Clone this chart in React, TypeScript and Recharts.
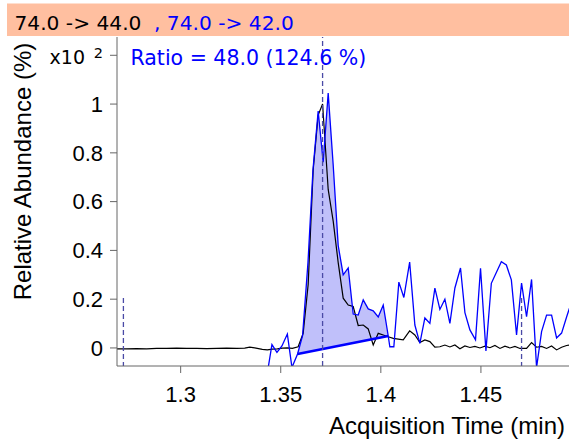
import React from 'react';
import { ComposedChart, Line, Area, XAxis, YAxis, ReferenceLine } from 'recharts';

const FONT = '"Liberation Sans", Arial, Helvetica, sans-serif';
const NOTE_FONT = '"DejaVu Sans", Verdana, sans-serif';
const QUAL_BLUE = '#0000ff';
const MARKER = '#4a4aa6';

// 74.0 -> 44.0 transition (black trace), abundance x10^2 %
const quantTime = [
  1.2682, 1.273, 1.278, 1.283, 1.288, 1.293, 1.298, 1.303, 1.308, 1.313, 1.318, 1.323, 1.328, 1.332,
  1.3345, 1.337, 1.3408, 1.3433, 1.3458, 1.3483, 1.3508, 1.3533, 1.3558, 1.3587, 1.3612, 1.3637,
  1.3662, 1.3687, 1.3709, 1.3737, 1.3762, 1.3787, 1.3812, 1.3837, 1.3862, 1.3887, 1.3912, 1.3937,
  1.3962, 1.3987, 1.4012, 1.4037, 1.4062, 1.4087, 1.4112, 1.4144, 1.417, 1.4195, 1.422, 1.4245,
  1.427, 1.4295, 1.432, 1.4345, 1.437, 1.4395, 1.442, 1.4445, 1.447, 1.4495, 1.452, 1.4545, 1.457,
  1.4595, 1.462, 1.4645, 1.467, 1.4695, 1.4728, 1.4753, 1.4778, 1.4803, 1.4828, 1.4853, 1.4878,
  1.4903, 1.4928, 1.494,
];
const quantAbund = [
  -0.004, -0.004, -0.003, -0.004, -0.002, -0.002, -0.001, -0.002, -0.002, -0.003, -0.002, -0.001, -0.002, -0.001,
  0.003, 0.0, -0.006, -0.008, -0.005, -0.004, -0.001, 0.0, -0.002, 0.005, 0.06, 0.26,
  0.73, 0.955, 1.0, 0.65, 0.52, 0.35, 0.204, 0.176, 0.17, 0.092, 0.094, 0.078,
  0.012, 0.06, 0.053, 0.046, 0.039, 0.036, 0.033, 0.07, 0.053, 0.022, 0.033, 0.026,
  0.003, 0.005, 0.012, 0.004, 0.012, -0.003, 0.008, 0.002, 0.006, 0.0, 0.007, 0.001, 0.01,
  -0.002, 0.007, 0.0, 0.006, -0.002, -0.002, 0.022, 0.003, 0.006, -0.002, 0.008, -0.008,
  0.003, 0.01, 0.012,
];

// 74.0 -> 42.0 transition (blue trace)
const qualTime = [
  1.3434, 1.3456, 1.3481, 1.3506, 1.3533, 1.3556, 1.3584, 1.3609, 1.3636, 1.3661, 1.3687, 1.3712,
  1.3737, 1.3762, 1.3787, 1.3812, 1.3837, 1.3862, 1.3887, 1.3912, 1.3937, 1.3962, 1.3987, 1.4012,
  1.4037, 1.4045, 1.4065, 1.409, 1.4115, 1.4144, 1.417, 1.4195, 1.422, 1.4245, 1.427, 1.4295,
  1.432, 1.4345, 1.437, 1.4398, 1.442, 1.4445, 1.4473, 1.4498, 1.4525, 1.4552, 1.4577, 1.4602,
  1.4627, 1.4652, 1.4678, 1.4703, 1.4728, 1.4753, 1.4778, 1.4803, 1.4828, 1.4853, 1.4878, 1.4903,
  1.4928, 1.4953,
];
const qualAbund = [
  -0.098, 0.014, -0.018, 0.008, 0.057, -0.08, -0.0246, 0.05, 0.35, 0.73, 0.971, 0.762,
  1.045, 0.75, 0.42, 0.3, 0.328, 0.139, 0.135, 0.197, 0.16, 0.152, 0.127, 0.176,
  0.049, 0.005, 0.005, 0.27, 0.207, 0.352, 0.094, 0.019, 0.123, 0.101, 0.245, 0.158,
  0.2, 0.101, 0.246, 0.328, 0.145, 0.074, 0.033, 0.327, -0.012, 0.265, 0.309, 0.354,
  0.34, 0.279, 0.053, 0.266, 0.128, 0.281, -0.08, 0.067, 0.135, 0.135, 0.041, 0.061,
  0.127, 0.19,
];

// integration baseline under the qualifier peak (start, end)
const baseTime = [1.3584, 1.4037];
const baseAbund = [-0.0246, 0.049];

// retention-time markers: window start, apex, window end
const markerTimes = [1.2714, 1.3709, 1.4703];
const markerTop = 0.205;

const xTicks = [1.3, 1.35, 1.4, 1.45];
const yTicks = [0, 0.2, 0.4, 0.6, 0.8, 1, 1.2];
const X_DOMAIN = [1.2682, 1.494];
const Y_DOMAIN = [-0.074, 1.275];

const quantData = quantTime.map((t, i) => ({ t, v: quantAbund[i] }));
const qualData = qualTime.map((t, i) => ({ t, v: qualAbund[i] }));
const baseData = baseTime.map((t, i) => ({ t, v: baseAbund[i] }));

// shaded peak: between the straight baseline and the qualifier trace
const baseAt = (t: number) =>
  baseAbund[0] + ((t - baseTime[0]) / (baseTime[1] - baseTime[0])) * (baseAbund[1] - baseAbund[0]);
const peakFill = qualData
  .filter((d) => d.t >= baseTime[0] - 1e-6 && d.t <= baseTime[1] + 1e-6)
  .map((d) => ({ t: d.t, band: [baseAt(d.t), d.v] }));

const YTick = (props: any) => {
  const { x, y, payload } = props;
  // top tick carries the scale factor instead of a number
  if (payload.value === 1.2) {
    return (
      <g fontFamily={NOTE_FONT} fill="#000">
        <text x={x - 18} y={y + 8.5} textAnchor="end" fontSize={19}>x10</text>
        <text x={x} y={y + 2.5} textAnchor="end" fontSize={14.5}>2</text>
      </g>
    );
  }
  return (
    <text x={x} y={y + 7.8} textAnchor="end" fontSize={22} fontFamily={FONT} fill="#000">
      {String(payload.value)}
    </text>
  );
};

const XTick = (props: any) => {
  const { x, y, payload } = props;
  return (
    <text x={x} y={y + 27} textAnchor="middle" fontSize={22} fontFamily={FONT} fill="#000">
      {String(payload.value)}
    </text>
  );
};

export default function App() {
  return (
    <div style={{ position: 'absolute', left: 0, top: 0, width: 569, height: 439, background: '#fff' }}>
      <ComposedChart width={569} height={439} margin={{ top: 37, right: 0, bottom: 0, left: 0 }}>
        <XAxis
          dataKey="t"
          type="number"
          domain={X_DOMAIN}
          allowDataOverflow
          ticks={xTicks}
          tick={<XTick />}
          height={73}
          tickSize={7}
          tickMargin={2}
          stroke="#666"
          interval={0}
        />
        <YAxis
          type="number"
          domain={Y_DOMAIN}
          allowDataOverflow
          ticks={yTicks}
          tick={<YTick />}
          width={117}
          tickSize={7}
          tickMargin={7}
          stroke="#666"
          interval={0}
        />
        <Area
          data={peakFill}
          dataKey="band"
          type="linear"
          stroke="none"
          fill="#c0c0fa"
          fillOpacity={1}
          isAnimationActive={false}
        />
        <Line
          data={quantData}
          dataKey="v"
          type="linear"
          stroke="#000"
          strokeWidth={1.2}
          dot={false}
          isAnimationActive={false}
        />
        <Line
          data={qualData}
          dataKey="v"
          type="linear"
          stroke={QUAL_BLUE}
          strokeWidth={1.3}
          dot={false}
          isAnimationActive={false}
        />
        <Line
          data={baseData}
          dataKey="v"
          type="linear"
          stroke={QUAL_BLUE}
          strokeWidth={2.6}
          dot={false}
          isAnimationActive={false}
        />
        <ReferenceLine
          segment={[{ x: markerTimes[0], y: markerTop }, { x: markerTimes[0], y: Y_DOMAIN[0] }]}
          stroke={MARKER}
          strokeWidth={1.3}
          strokeDasharray="5 3"
        />
        <ReferenceLine x={markerTimes[1]} stroke={MARKER} strokeWidth={1.3} strokeDasharray="5 3" />
        <ReferenceLine
          segment={[{ x: markerTimes[2], y: markerTop }, { x: markerTimes[2], y: Y_DOMAIN[0] }]}
          stroke={MARKER}
          strokeWidth={1.3}
          strokeDasharray="5 3"
        />
      </ComposedChart>
      <svg
        width={569}
        height={439}
        style={{ position: 'absolute', left: 0, top: 0, pointerEvents: 'none' }}
        fontFamily={FONT}
      >
        <rect x={7} y={3.5} width={562} height={32.5} fill="#ffbfa0" />
        <g fontFamily={NOTE_FONT} fontSize={20.2}>
          <text x={14.5} y={29.5} fill="#000">74.0 -&gt; 44.0</text>
          <text x={154} y={29.5} fill={QUAL_BLUE}>, 74.0 -&gt; 42.0</text>
          <text x={130.5} y={65} fontSize={20.5} fill={QUAL_BLUE}>Ratio = 48.0 (124.6 %)</text>
        </g>
        <text x={31} y={171.5} fontSize={24} textAnchor="middle" transform="rotate(-90 31 171.5)" fill="#000">
          Relative Abundance (%)
        </text>
        <text x={565} y={434} fontSize={24} textAnchor="end" fill="#000">Acquisition Time (min)</text>
      </svg>
    </div>
  );
}
